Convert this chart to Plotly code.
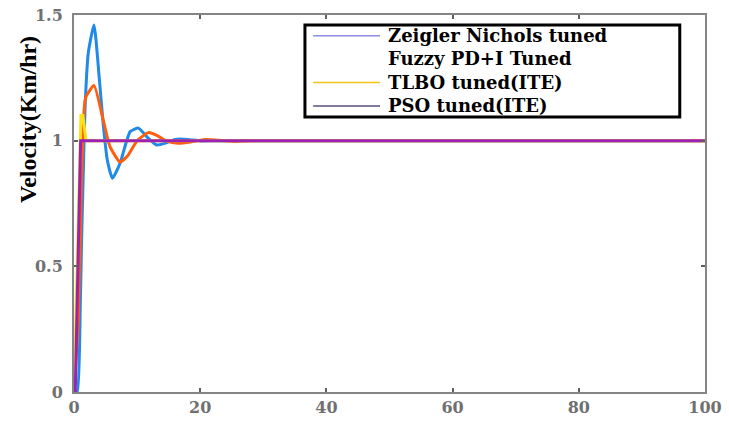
import plotly.graph_objects as go

# Step responses (time in s, velocity in Km/hr)
zn_t = [0, 0.5, 1.0, 1.2, 1.5, 1.75, 2.27, 3.17, 4.0, 4.65, 5.3, 6.1, 7.3, 8.9, 10.2, 11.8, 13.1, 14.5, 16, 18, 20, 23, 100]
zn_v = [0, 0.0, 0.35, 0.6, 0.9, 1.13, 1.35, 1.46, 1.25, 1.06, 0.92, 0.85, 0.91, 1.036, 1.05, 1.009, 0.983, 0.99, 1.005, 1.005, 0.999, 1.0, 1.0]

fz_t = [0, 0.7, 1.2, 1.5, 1.75, 2.0, 3.17, 4.65, 5.7, 7.3, 8.5, 10, 11.8, 13.2, 14.7, 16.5, 18.5, 20.5, 23, 25.5, 28, 100]
fz_v = [0, 0.3, 0.85, 1.08, 1.16, 1.18, 1.22, 1.08, 0.976, 0.915, 0.94, 1.0, 1.032, 1.02, 0.998, 0.99, 0.995, 1.004, 1.002, 0.997, 1.0, 1.0]

tlbo_t = [0, 1.1, 1.4, 1.9, 100]
tlbo_v = [0, 1.10, 1.10, 1.0, 1.0]

pso_t = [0, 0.2, 1.05, 100]
pso_v = [0, 0.0, 1.0, 1.0]

series_names = ["Zeigler Nichols tuned", "Fuzzy PD+I Tuned", "TLBO tuned(ITE)", "PSO tuned(ITE)"]
line_colors = ["#1f8ae8", "#ff5e0e", "#ffe015", "#9a22b4"]
line_shapes = ["spline", "spline", "linear", "linear"]
legend_colors = ["#8c8ce0", None, "#f2c21a", "#5b4d82"]

x_ticks = [0, 20, 40, 60, 80, 100]
y_ticks = [0, 0.5, 1, 1.5]

fig = go.Figure()
data = [(zn_t, zn_v), (fz_t, fz_v), (tlbo_t, tlbo_v), (pso_t, pso_v)]
for (t, v), name, col, shp in zip(data, series_names, line_colors, line_shapes):
    fig.add_trace(go.Scatter(x=t, y=v, mode="lines", name=name, showlegend=False,
                             line=dict(color=col, width=3, shape=shp, smoothing=0.5)))

tick_font = dict(family="DejaVu Serif", size=16, color="#707070")
axis_common = dict(
    showline=True, linecolor="#858585", linewidth=2, mirror="ticks",
    ticks="inside", ticklen=4, tickcolor="#606060", tickwidth=1.5,
    showgrid=False, zeroline=False, automargin=False,
    tickfont=tick_font,
)
fig.update_xaxes(range=[0, 100], tickvals=x_ticks,
                 ticktext=[f"<b>{v}</b>" for v in x_ticks], **axis_common)
fig.update_yaxes(range=[0, 1.5], tickvals=y_ticks,
                 ticktext=["<b>0</b>", "<b>0.5</b>", "<b>1</b>", "<b>1.5</b>"],
                 ticklabelstandoff=6, **axis_common)

fig.add_annotation(text="<b>Velocity(Km/hr)</b>", xref="paper", yref="paper",
                   x=-0.073, y=0.724, textangle=-90, showarrow=False,
                   xanchor="center", yanchor="middle",
                   font=dict(family="Liberation Serif", size=24, color="black"))

# boxed legend drawn in paper coordinates (plot area is 631 x 377 px)
plot_h = 377.0
legend_font = 18
row_step = 1.3 * legend_font / plot_h
legend_mid = 0.852
box_x0, box_x1, box_y0, box_y1 = 0.366, 0.960, 0.7294, 0.9735
fig.add_shape(type="rect", xref="paper", yref="paper",
              x0=box_x0, x1=box_x1, y0=box_y0, y1=box_y1,
              line=dict(color="black", width=3), fillcolor="white", layer="above")
for i, col in enumerate(legend_colors):
    if col is None:
        continue
    yy = legend_mid + (1.5 - i) * row_step
    fig.add_shape(type="line", xref="paper", yref="paper",
                  x0=0.379, x1=0.485, y0=yy, y1=yy,
                  line=dict(color=col, width=1.5), layer="above")
fig.add_annotation(text="<br>".join(f"<b>{n}</b>" for n in series_names),
                   xref="paper", yref="paper", x=0.494, y=legend_mid,
                   xanchor="left", yanchor="middle", align="left", showarrow=False,
                   font=dict(family="DejaVu Serif", size=legend_font, color="black"))

fig.update_layout(
    width=729, height=424,
    margin=dict(l=74, r=24, t=15, b=32),
    paper_bgcolor="white", plot_bgcolor="white",
    showlegend=False,
)

fig.write_html("out.html")
